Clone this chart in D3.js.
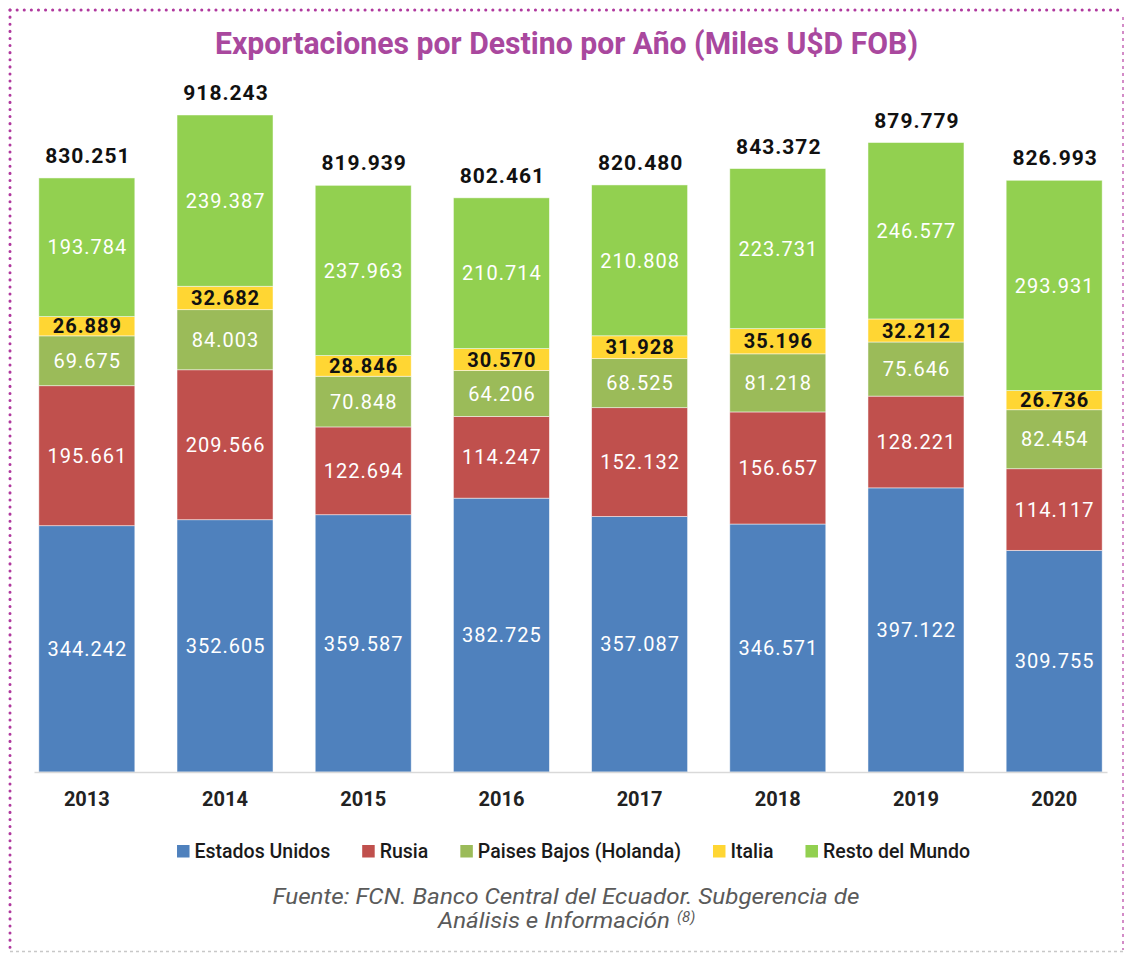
<!DOCTYPE html>
<html>
<head>
<meta charset="utf-8">
<script src="https://cdn.jsdelivr.net/npm/d3@7"></script>
<style>
  body { margin: 0; background: #fff; }
  svg { display: block; font-family: Roboto, "DejaVu Sans", sans-serif; }
</style>
</head>
<body>
<div id="chart"></div>
<script>
// Datos (miles de USD FOB)
const anios = ["2013", "2014", "2015", "2016", "2017", "2018", "2019", "2020"];
const destinos = ["Estados Unidos", "Rusia", "Paises Bajos (Holanda)", "Italia", "Resto del Mundo"];
const estadosUnidos = [344242, 352605, 359587, 382725, 357087, 346571, 397122, 309755];
const rusia = [195661, 209566, 122694, 114247, 152132, 156657, 128221, 114117];
const paisesBajos = [69675, 84003, 70848, 64206, 68525, 81218, 75646, 82454];
const italia = [26889, 32682, 28846, 30570, 31928, 35196, 32212, 26736];
const restoMundo = [193784, 239387, 237963, 210714, 210808, 223731, 246577, 293931];
const totales = [830251, 918243, 819939, 802461, 820480, 843372, 879779, 826993];
const colores = ["#4F81BD", "#C0504D", "#9BBB59", "#FFD633", "#92D050"];

const width = 1124, height = 953;

// tabla para d3.stack
const valores = [estadosUnidos, rusia, paisesBajos, italia, restoMundo];
const tabla = anios.map((a, i) => {
  const fila = { anio: a, total: totales[i] };
  destinos.forEach((d, j) => fila[d] = valores[j][i]);
  return fila;
});

const es = d3.formatLocale({ decimal: ",", thousands: ".", grouping: [3], currency: ["$", ""] });
const fmt = es.format(",d");

const svg = d3.select("#chart")
  .append("svg")
  .attr("width", width)
  .attr("height", height);

// marco punteado
svg.append("line").attr("x1", 10).attr("y1", 10).attr("x2", 1124).attr("y2", 10)
  .attr("stroke", "#B0399E").attr("stroke-width", 3).attr("stroke-linecap", "round").attr("stroke-dasharray", "0.1 7");
svg.append("line").attr("x1", 10).attr("y1", 10).attr("x2", 10).attr("y2", 950)
  .attr("stroke", "#B0399E").attr("stroke-width", 3).attr("stroke-linecap", "round").attr("stroke-dasharray", "0.1 7");
svg.append("line").attr("x1", 1123).attr("y1", 17).attr("x2", 1123).attr("y2", 950)
  .attr("stroke", "#D38CC8").attr("stroke-width", 2).attr("stroke-dasharray", "3 4");
svg.append("line").attr("x1", 10).attr("y1", 951.5).attr("x2", 1124).attr("y2", 951.5)
  .attr("stroke", "#C8C8C8").attr("stroke-width", 1.5).attr("stroke-dasharray", "3 3");

// titulo
svg.append("text")
  .attr("x", 566.5).attr("y", 54)
  .attr("text-anchor", "middle")
  .attr("font-size", 32).attr("font-weight", "bold")
  .attr("fill", "#A9489E")
  .attr("textLength", 703).attr("lengthAdjust", "spacingAndGlyphs")
  .text("Exportaciones por Destino por Año (Miles U$D FOB)");

const x = d3.scaleBand()
  .domain(anios)
  .range([34, 1107])
  .paddingInner(0.3054)
  .paddingOuter(0.035);

const y = d3.scaleLinear()
  .domain([0, 1000000])
  .range([772, 56.5]);

const stack = d3.stack().keys(destinos)(tabla);

const capas = svg.append("g")
  .selectAll("g")
  .data(stack)
  .join("g")
  .attr("fill", (d, i) => colores[i]);

capas.selectAll("rect")
  .data(d => d)
  .join("rect")
  .attr("x", d => x(d.data.anio))
  .attr("y", d => y(d[1]))
  .attr("width", x.bandwidth())
  .attr("height", d => y(d[0]) - y(d[1]))
  .attr("stroke", "#fff")
  .attr("stroke-opacity", 0.6)
  .attr("stroke-width", 0.8);

// etiquetas de cada segmento
capas.each(function(serie, i) {
  d3.select(this).selectAll("text")
    .data(serie)
    .join("text")
    .attr("x", d => x(d.data.anio) + x.bandwidth() / 2 + 0.5)
    .attr("y", d => (y(d[0]) + y(d[1])) / 2)
    .attr("dy", "0.36em")
    .attr("text-anchor", "middle")
    .attr("font-size", 20)
    .attr("letter-spacing", 1)
    .attr("font-weight", i === 3 ? "bold" : "normal")
    .attr("fill", i === 3 ? "#111" : "#fff")
    .text(d => fmt(d[1] - d[0]));
});

// totales
svg.append("g")
  .selectAll("text")
  .data(tabla)
  .join("text")
  .attr("x", d => x(d.anio) + x.bandwidth() / 2 + 1)
  .attr("y", d => y(d.total) - 15)
  .attr("text-anchor", "middle")
  .attr("font-size", 21)
  .attr("font-weight", "bold")
  .attr("letter-spacing", 1)
  .attr("fill", "#111")
  .text(d => fmt(d.total));

// eje x
const ejeX = svg.append("g")
  .attr("transform", "translate(0,772)")
  .call(d3.axisBottom(x).tickSize(0).tickPadding(20));
ejeX.select(".domain").attr("stroke", "#D9D9D9").attr("stroke-width", 1.5);
ejeX.selectAll("text")
  .attr("font-size", 20)
  .attr("font-weight", "bold")
  .attr("font-family", "Roboto, sans-serif")
  .attr("fill", "#222");

// leyenda
const leyenda = svg.append("g");
const items = leyenda.selectAll("g")
  .data(destinos)
  .join("g");
items.append("rect")
  .attr("y", 845)
  .attr("width", 12.5).attr("height", 12.5)
  .attr("fill", (d, i) => colores[i]);
items.append("text")
  .attr("x", 17.5).attr("y", 858)
  .attr("font-size", 19.5).attr("font-weight", 500)
  .attr("fill", "#1a1a1a")
  .text(d => d);
let pos = 0;
const posiciones = [];
items.each(function() {
  posiciones.push(pos);
  const w = d3.select(this).select("text").node().getComputedTextLength();
  pos += 17.5 + w + 32;
});
const anchoLeyenda = pos - 32;
const inicio = 573.5 - anchoLeyenda / 2;
items.attr("transform", (d, i) => `translate(${inicio + posiciones[i]},0)`);

// fuente
const fuente = svg.append("g")
  .attr("font-style", "italic")
  .attr("font-size", 22)
  .attr("fill", "#5a5a5a");
fuente.append("text")
  .attr("x", 566).attr("y", 904)
  .attr("text-anchor", "middle")
  .attr("textLength", 587).attr("lengthAdjust", "spacingAndGlyphs")
  .text("Fuente: FCN. Banco Central del Ecuador. Subgerencia de");
fuente.append("text")
  .attr("x", 438).attr("y", 928)
  .attr("textLength", 232).attr("lengthAdjust", "spacingAndGlyphs")
  .text("Análisis e Información");
fuente.append("text")
  .attr("x", 677).attr("y", 922)
  .attr("font-size", 15)
  .text("(8)");
</script>
</body>
</html>
